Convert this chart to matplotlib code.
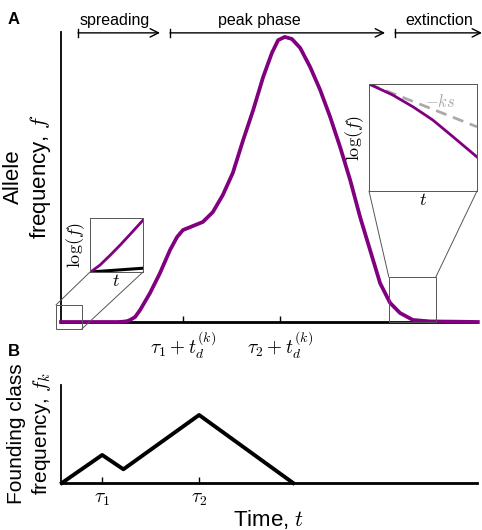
import matplotlib
matplotlib.use("Agg")
import matplotlib.pyplot as plt
from matplotlib.patches import Rectangle, ConnectionPatch

plt.rcParams['font.family'] = ['Liberation Sans', 'DejaVu Sans']
plt.rcParams['mathtext.fontset'] = 'cm'

# founding times and delay (time units)
tau1 = 0.99
tau2 = 3.32
t_d = 1.94

# panel A: allele frequency curve
t_allele = [0.0, 0.94, 1.37, 1.49, 1.59, 1.66, 1.78, 1.90, 2.14, 2.38, 2.62, 2.79,
            2.93, 3.17, 3.41, 3.65, 3.89, 4.13, 4.38, 4.62, 4.86, 5.07, 5.22, 5.38,
            5.55, 5.75, 5.99, 6.23, 6.47, 6.71, 6.95, 7.19, 7.43, 7.67, 7.91, 8.15,
            8.46, 8.87, 9.59, 10.02]
f_allele = [0.0, 0.0, 0.0, 0.001, 0.003, 0.007, 0.017, 0.041, 0.100, 0.169, 0.248, 0.293,
            0.317, 0.331, 0.345, 0.379, 0.438, 0.514, 0.628, 0.731, 0.845, 0.928, 0.972, 0.983,
            0.976, 0.945, 0.879, 0.800, 0.707, 0.603, 0.490, 0.362, 0.248, 0.134, 0.066, 0.031,
            0.007, 0.002, 0.001, 0.0]

# left inset (spreading, log scale, normalised)
t_in1 = [0.0, 0.04, 0.19, 0.38, 0.57, 0.75, 1.0]
logf_in1 = [0.0, 0.02, 0.13, 0.31, 0.50, 0.69, 0.96]
t_in1_bg = [0.0, 1.0]
logf_in1_bg = [0.0, 0.07]

# right inset (extinction, log scale, normalised)
t_in2 = [0.0, 0.22, 0.41, 0.59, 0.78, 1.0]
logf_in2 = [1.0, 0.897, 0.785, 0.664, 0.505, 0.318]
t_slope = [0.0, 1.0]
logf_slope = [1.0, 0.6]

# panel B: founding class frequency
t_found = [0.02, tau1, 1.50, tau2, 5.58]
f_found = [0.0, 0.286, 0.14, 0.694, 0.0]

purple = '#800080'

fig = plt.figure(figsize=(4.82, 5.30), dpi=100)

# ---------- panel A ----------
axA = fig.add_axes([61 / 482, 1 - 322 / 530, 416 / 482, 290 / 530])
axA.plot(t_allele, f_allele, color=purple, lw=2.7, clip_on=False, zorder=5,
         solid_joinstyle='round')
axA.set_xlim(0, 10)
axA.set_ylim(0, 1)
for s in ['top', 'right']:
    axA.spines[s].set_visible(False)
axA.spines['left'].set_linewidth(1.3)
axA.spines['bottom'].set_linewidth(2)
axA.set_yticks([])
axA.set_xticks([tau1 + t_d, tau2 + t_d])
axA.set_xticklabels([r'$\tau_1+t_d^{(k)}$', r'$\tau_2+t_d^{(k)}$'], fontsize=14)
axA.tick_params(axis='x', direction='in', length=4, width=1, pad=5)
axA.set_ylabel('Allele\nfrequency, $f$', fontsize=16, labelpad=6)

# phase arrows
phases = [('spreading', 0.41, 2.38, 1.30), ('peak phase', 2.62, 7.79, 4.78),
          ('extinction', 8.03, 10.12, 9.09)]
xax = axA.get_xaxis_transform()
for name, x_start, x_end, x_txt in phases:
    axA.annotate('', xy=(x_end, 0.997), xytext=(x_start, 0.997),
                 xycoords=xax, textcoords=xax,
                 arrowprops=dict(arrowstyle='->,head_length=0.6,head_width=0.3',
                                 lw=1, color='black', shrinkA=0, shrinkB=0),
                 annotation_clip=False)
    axA.plot([x_start, x_start], [0.984, 1.010], color='black', lw=1,
             transform=xax, clip_on=False)
    axA.text(x_txt, 1.041, name, transform=xax,
             ha='center', va='center', fontsize=11.5)

# zoom boxes on main axes
box_l = Rectangle((-0.12, -0.024), 0.62, 0.083, fill=False, lw=0.7, ec='#555555',
                  clip_on=False, zorder=6)
box_r = Rectangle((7.88, 0.0), 1.13, 0.155, fill=False, lw=0.7, ec='#555555',
                  clip_on=False, zorder=6)
axA.add_patch(box_l)
axA.add_patch(box_r)

# left inset
ax1 = fig.add_axes([90 / 482, 1 - 272 / 530, 53 / 482, 54 / 530])
ax1.plot(t_in1_bg, logf_in1_bg, color='black', lw=2.2)
ax1.plot(t_in1, logf_in1, color=purple, lw=2)
ax1.set_xlim(0, 1)
ax1.set_ylim(0, 1)
ax1.set_xticks([])
ax1.set_yticks([])
for s in ax1.spines.values():
    s.set_linewidth(0.7)
    s.set_edgecolor('#555555')
ax1.set_xlabel('$t$', fontsize=13, labelpad=1)
ax1.set_ylabel(r'$\log(f)$', fontsize=13, labelpad=2)

# right inset
ax2 = fig.add_axes([369 / 482, 1 - 191 / 530, 108 / 482, 107 / 530])
ax2.plot(t_slope, logf_slope, color='#aaaaaa', lw=2, ls=(0, (4, 2.5)))
ax2.plot(t_in2, logf_in2, color=purple, lw=2)
ax2.text(0.66, 0.84, r'$-ks$', color='#aaaaaa', fontsize=12, transform=ax2.transAxes,
         ha='center', va='center')
ax2.set_xlim(0, 1)
ax2.set_ylim(0, 1)
ax2.set_xticks([])
ax2.set_yticks([])
for s in ax2.spines.values():
    s.set_linewidth(0.7)
    s.set_edgecolor('#555555')
ax2.set_xlabel('$t$', fontsize=13, labelpad=1)
ax2.set_ylabel(r'$\log(f)$', fontsize=13, labelpad=2)

# connector lines
links = [(ax1, (0, 0), (-0.12, 0.059)), (ax1, (1, 0), (0.50, -0.024)),
         (ax2, (0, 0), (7.88, 0.155)), (ax2, (1, 0), (9.01, 0.155))]
for ax_in, xy_in, xy_main in links:
    con = ConnectionPatch(xyA=xy_in, coordsA=ax_in.transAxes, xyB=xy_main, coordsB=axA.transData,
                          color='#555555', lw=0.7)
    fig.add_artist(con)

# ---------- panel B ----------
axB = fig.add_axes([61 / 482, 1 - 483 / 530, 416 / 482, 98 / 530])
axB.plot(t_found, f_found, color='black', lw=2.8, clip_on=False, zorder=5)
axB.set_xlim(0, 10)
axB.set_ylim(0, 1)
for s in ['top', 'right']:
    axB.spines[s].set_visible(False)
axB.spines['left'].set_linewidth(1.3)
axB.spines['bottom'].set_linewidth(2)
axB.set_yticks([])
axB.set_xticks([tau1, tau2])
axB.set_xticklabels([r'$\tau_1$', r'$\tau_2$'], fontsize=14)
axB.tick_params(axis='x', direction='in', length=4, width=1, pad=6)
axB.set_ylabel('Founding class\nfrequency, $f_k$', fontsize=15, labelpad=6)
axB.set_xlabel('Time, $t$', fontsize=16, labelpad=0)

fig.text(8 / 482, 1 - 19 / 530, 'A', fontsize=12, fontweight='bold', va='center')
fig.text(8 / 482, 1 - 352 / 530, 'B', fontsize=12, fontweight='bold', va='center')

fig.savefig('out.png', dpi=100)
